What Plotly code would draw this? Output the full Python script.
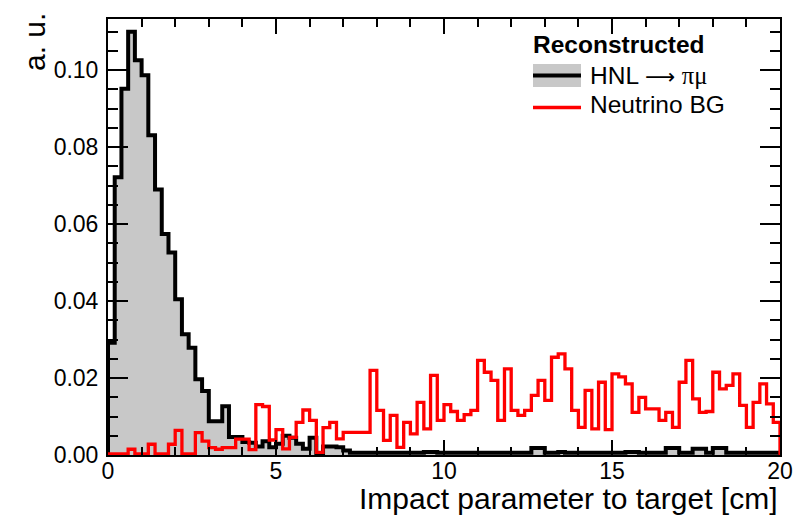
import numpy as np
import plotly.graph_objects as go

# ---------------- data ----------------
bin_edges = np.linspace(0, 20, 101)          # 100 bins of 0.2 cm

hnl_values = [
    0.0292, 0.0722, 0.0952, 0.1100, 0.1026, 0.0987, 0.0831, 0.0690, 0.0574, 0.0526,
    0.0405, 0.0314, 0.0279, 0.0197, 0.0166, 0.0088, 0.0088, 0.0127, 0.0047, 0.0047,
    0.0034, 0.0032, 0.0022, 0.0036, 0.0020, 0.0029, 0.0050, 0.0045, 0.0029, 0.0016,
    0.0045, 0.0004, 0.0022, 0.0022, 0.0020, 0.0012, 0.0006, 0.0006, 0.0006, 0.0006,
    0.0006, 0.0006, 0.0006, 0.0006, 0.0006, 0.0006, 0.0006, 0.0008, 0.0008, 0.0006,
    0.0006, 0.0006, 0.0006, 0.0006, 0.0006, 0.0006, 0.0006, 0.0006, 0.0006, 0.0006,
    0.0006, 0.0006, 0.0006, 0.0018, 0.0018, 0.0006, 0.0006, 0.0008, 0.0006, 0.0006,
    0.0006, 0.0006, 0.0006, 0.0006, 0.0006, 0.0006, 0.0006, 0.0008, 0.0008, 0.0006,
    0.0006, 0.0006, 0.0006, 0.0018, 0.0018, 0.0006, 0.0006, 0.0016, 0.0016, 0.0006,
    0.0018, 0.0018, 0.0006, 0.0006, 0.0006, 0.0006, 0.0006, 0.0006, 0.0006, 0.0006,
]

bg_values = [
    0.0003, 0.0003, 0.0003, 0.0015, 0.0003, 0.0003, 0.0028, 0.0003, 0.0003, 0.0028,
    0.0064, 0.0003, 0.0003, 0.0058, 0.0036, 0.0019, 0.0015, 0.0019, 0.0019, 0.0041,
    0.0041, 0.0014, 0.0131, 0.0126, 0.0039, 0.0066, 0.0016, 0.0046, 0.0085, 0.0117,
    0.0090, 0.0007, 0.0071, 0.0085, 0.0042, 0.0059, 0.0059, 0.0059, 0.0059, 0.0220,
    0.0116, 0.0038, 0.0103, 0.0020, 0.0085, 0.0055, 0.0137, 0.0068, 0.0207, 0.0090,
    0.0131, 0.0113, 0.0090, 0.0105, 0.0116, 0.0246, 0.0215, 0.0194, 0.0090, 0.0224,
    0.0116, 0.0103, 0.0116, 0.0155, 0.0194, 0.0142, 0.0254, 0.0263, 0.0224, 0.0116,
    0.0072, 0.0168, 0.0068, 0.0189, 0.0066, 0.0211, 0.0203, 0.0185, 0.0111, 0.0150,
    0.0120, 0.0120, 0.0090, 0.0111, 0.0072, 0.0189, 0.0246, 0.0146, 0.0111, 0.0113,
    0.0215, 0.0172, 0.0181, 0.0211, 0.0129, 0.0072, 0.0137, 0.0185, 0.0133, 0.0085,
]

x_title = "Impact parameter to target [cm]"
y_title = "a. u."
legend_header = "Reconstructed"
bg_label = "Neutrino BG"

x_range = [0, 20]
y_range = [0, 0.1133]

# ---------------- helpers ----------------
def step_xy(vals):
    x = [bin_edges[0]] + list(bin_edges) + [bin_edges[-1]]
    y = [0.0] + list(vals) + [vals[-1], 0.0]
    return x, y

W, H = 807, 521
ML, MR, MT, MB = 108, 27, 19, 66
PW, PH = W - ML - MR, H - MT - MB

def px(xp):
    return (xp - ML) / PW

def py(yp):
    return (H - MB - yp) / PH

FONT = "Liberation Sans, Arial, Helvetica, sans-serif"

hnl_label = ("HNL <span style=\"font-family:'DejaVu Sans';font-size:21px\">\u27f6</span> "
             "<span style=\"font-family:'Liberation Serif'\">\u03c0\u03bc</span>")

fig = go.Figure()

hx, hy = step_xy(hnl_values)
fig.add_trace(go.Scatter(
    x=hx, y=hy, mode="lines", line=dict(color="black", width=4, shape="hv"),
    fill="tozeroy", fillcolor="#c8c8c8", showlegend=False, hoverinfo="skip"))

bx, by = step_xy(bg_values)
fig.add_trace(go.Scatter(
    x=bx, y=by, mode="lines", line=dict(color="#ff0000", width=3.3, shape="hv"),
    showlegend=False, hoverinfo="skip"))

axis_common = dict(
    showline=True, linecolor="black", linewidth=2, mirror="allticks",
    ticks="inside", tickcolor="black", tickwidth=1.5,
    showgrid=False, zeroline=False,
    tickfont=dict(family=FONT, size=23, color="black"),
)

fig.update_xaxes(range=x_range, tick0=0, dtick=5, ticklen=15,
                 minor=dict(dtick=1, ticklen=8, ticks="inside", tickcolor="black", tickwidth=1.5),
                 ticklabelstandoff=-6, **axis_common)
fig.update_yaxes(range=y_range, tick0=0, dtick=0.02, tickformat=".2f", ticklen=20,
                 minor=dict(dtick=0.005, ticklen=10, ticks="inside", tickcolor="black", tickwidth=1.5),
                 ticklabelstandoff=3, **axis_common)

shapes = [
    # HNL legend symbol: gray box with black line
    dict(type="rect", xref="paper", yref="paper",
         x0=px(533), x1=px(581), y0=py(87), y1=py(64),
         fillcolor="#c8c8c8", line=dict(width=0)),
    dict(type="line", xref="paper", yref="paper",
         x0=px(533), x1=px(581), y0=py(75.5), y1=py(75.5),
         line=dict(color="black", width=4)),
    # BG legend symbol: red line
    dict(type="line", xref="paper", yref="paper",
         x0=px(533), x1=px(581), y0=py(107.5), y1=py(107.5),
         line=dict(color="#ff0000", width=3.5)),
]

LEG = 24.5
annotations = [
    dict(text=x_title, xref="paper", yref="paper", x=1, y=0, xanchor="right",
         yanchor="middle", yshift=-(498 - (H - MB)), showarrow=False,
         font=dict(family=FONT, size=30, color="black")),
    dict(text=y_title, xref="paper", yref="paper", x=0, y=1, xanchor="center",
         yanchor="middle", xshift=34 - ML, yshift=-(42 - MT), textangle=-90,
         showarrow=False, font=dict(family=FONT, size=30, color="black")),
    dict(text="<b>" + legend_header + "</b>", xref="paper", yref="paper",
         x=px(531), y=py(44), xanchor="left", yanchor="middle", showarrow=False,
         font=dict(family=FONT, size=LEG, color="black")),
    dict(text=hnl_label, xref="paper", yref="paper",
         x=px(588), y=py(75), xanchor="left", yanchor="middle", showarrow=False,
         font=dict(family=FONT, size=LEG, color="black")),
    dict(text=bg_label, xref="paper", yref="paper",
         x=px(588), y=py(104), xanchor="left", yanchor="middle", showarrow=False,
         font=dict(family=FONT, size=LEG, color="black")),
]

fig.update_layout(
    width=W, height=H,
    margin=dict(l=ML, r=MR, t=MT, b=MB, pad=0),
    paper_bgcolor="white", plot_bgcolor="white",
    shapes=shapes, annotations=annotations,
    showlegend=False,
)

fig.write_html("out.html")
